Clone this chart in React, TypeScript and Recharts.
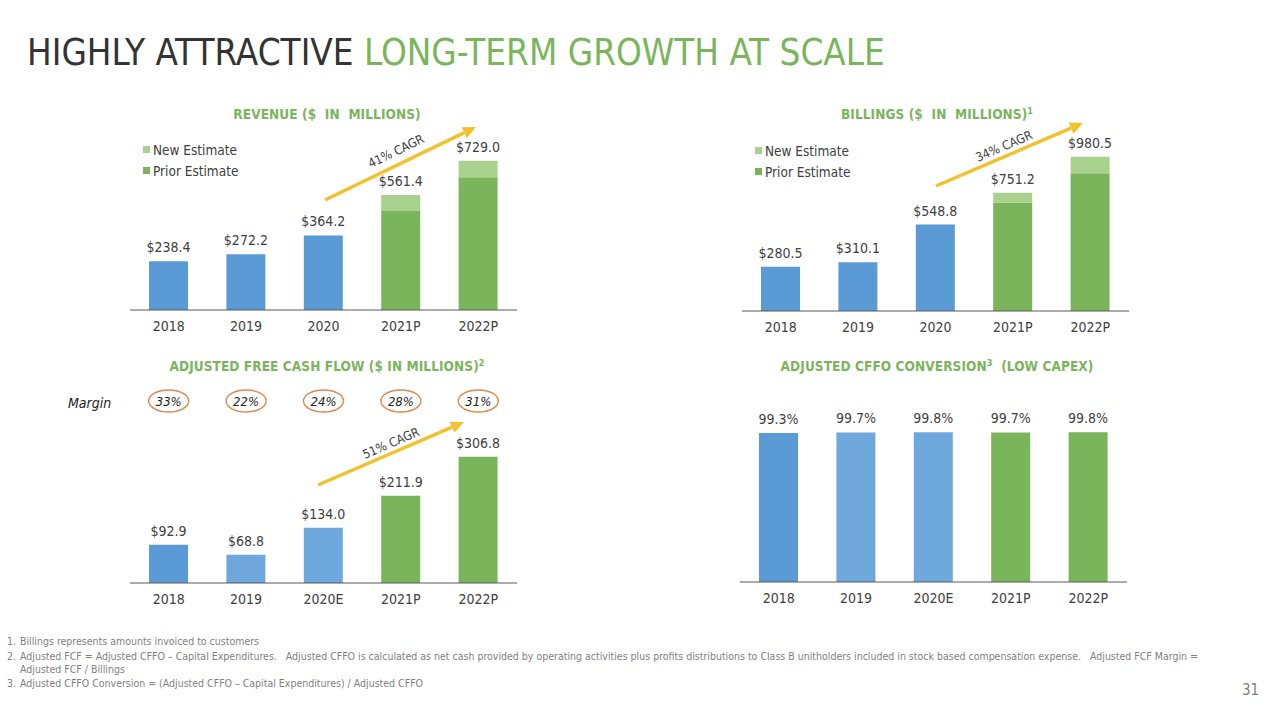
import React from 'react';
import { BarChart, Bar, XAxis, YAxis, Cell, LabelList, Legend } from 'recharts';

// categories
const years = ['2018', '2019', '2020', '2021P', '2022P'];
const fcfYears = ['2018', '2019', '2020E', '2021P', '2022P'];
const projected = [false, false, false, true, true];

// revenue ($M) — total and the prior-estimate part of the projections
const revenueTotal = [238.4, 272.2, 364.2, 561.4, 729.0];
const revenuePrior = [null, null, null, 483, 648];

// billings ($M)
const billingsTotal = [280.5, 310.1, 548.8, 751.2, 980.5];
const billingsPrior = [null, null, null, 690, 875];

// adjusted FCF ($M) and margin
const fcfValues = [92.9, 68.8, 134.0, 211.9, 306.8];
const fcfMargins = ['33%', '22%', '24%', '28%', '31%'];

// adjusted CFFO conversion (%)
const cffoValues = [99.3, 99.7, 99.8, 99.7, 99.8];

const BLUE = '#5b9bd5';
const LIGHT_BLUE = '#6fa8dc';
const GREEN = '#7ab55c';
const LIGHT_GREEN = '#a9d18e';
const ARROW = '#f2c12e';
const TEXT = '#404040';
const FONT = "'DejaVu Sans Condensed', 'DejaVu Sans', sans-serif";
const NARROW = "'Liberation Sans Narrow', 'DejaVu Sans Condensed', sans-serif";

const barColors = [BLUE, LIGHT_BLUE, LIGHT_BLUE, GREEN, GREEN];

const money = (v: number) => `$${v.toFixed(1)}`;

function stackedRows(total: number[], prior: (number | null)[]) {
  return years.map((year, i) => ({
    year,
    actual: projected[i] ? null : total[i],
    prior: prior[i],
    newer: projected[i] && prior[i] != null ? +(total[i] - (prior[i] as number)).toFixed(1) : null,
    actualLabel: projected[i] ? null : money(total[i]),
    projLabel: projected[i] ? money(total[i]) : null,
  }));
}

const revenueData = stackedRows(revenueTotal, revenuePrior);
const billingsData = stackedRows(billingsTotal, billingsPrior);
const fcfData = fcfYears.map((year, i) => ({ year, value: fcfValues[i], margin: fcfMargins[i], label: money(fcfValues[i]) }));
const cffoData = fcfYears.map((year, i) => ({ year, value: cffoValues[i], label: `${cffoValues[i].toFixed(1)}%` }));

const tickStyle = { fontSize: 14, fill: TEXT, fontFamily: FONT };
const labelStyle = { fontSize: 14, fill: TEXT, fontFamily: FONT };

const LegendBox = ({ payload }: any) => {
  const items = [...(payload || [])].filter((p: any) => p.type !== 'none').sort((a: any, b: any) => String(a.value).localeCompare(String(b.value)));
  return (
    <div style={{ fontFamily: FONT, fontSize: 13.5, color: TEXT }}>
      {items.map((p: any) => (
        <div key={p.value} style={{ display: 'flex', alignItems: 'center', height: 21 }}>
          <span style={{ width: 7, height: 7, background: p.color, display: 'inline-block', marginRight: 3 }} />
          {p.value}
        </div>
      ))}
    </div>
  );
};

function StackedPanel({ data, max, left, top }: { data: any[]; max: number; left: number; top: number }) {
  return (
    <div style={{ position: 'absolute', left, top }}>
      <BarChart width={400} height={210} data={data} margin={{ top: 10, right: 3, left: 10, bottom: 0 }}>
        <XAxis dataKey="year" height={30} tick={tickStyle} tickLine={false} tickMargin={5} axisLine={{ stroke: '#595959' }} />
        <YAxis hide domain={[0, max]} />
        <Legend layout="vertical" align="center" verticalAlign="middle" content={<LegendBox />}
          wrapperStyle={{ left: 23, top: 9, width: 'auto', height: 'auto' }} />
        <Bar dataKey="actual" stackId="a" fill={BLUE} barSize={39} legendType="none" isAnimationActive={false}>
          <LabelList dataKey="actualLabel" position="top" offset={9} style={labelStyle} />
        </Bar>
        <Bar dataKey="prior" name="Prior Estimate" stackId="a" fill={GREEN} barSize={39} isAnimationActive={false} />
        <Bar dataKey="newer" name="New Estimate" stackId="a" fill={LIGHT_GREEN} barSize={39} isAnimationActive={false}>
          <LabelList dataKey="projLabel" position="top" offset={9} style={labelStyle} />
        </Bar>
      </BarChart>
    </div>
  );
}

const MarginTick = ({ x, y, payload }: any) => (
  <g>
    <ellipse cx={x} cy={y - 42} rx={20} ry={11} fill="none" stroke="#d98a4e" strokeWidth={1.4} />
    <text x={x} y={y - 42} dy="0.35em" textAnchor="middle" fontSize={13} fontStyle="italic" fill="#222" fontFamily={FONT}>
      {payload.value}
    </text>
  </g>
);

function FcfPanel() {
  return (
    <div style={{ position: 'absolute', left: 120, top: 380 }}>
      <BarChart width={400} height={233} data={fcfData} margin={{ top: 0, right: 3, left: 10, bottom: 0 }}>
        <XAxis xAxisId="top" orientation="top" dataKey="margin" height={63} axisLine={false} tickLine={false}
          tickSize={0} tickMargin={0} tick={<MarginTick />} interval={0} />
        <XAxis dataKey="year" height={30} tick={tickStyle} tickLine={false} tickMargin={5} axisLine={{ stroke: '#595959' }} />
        <YAxis hide domain={[0, 340]} />
        <Bar dataKey="value" barSize={39} isAnimationActive={false}>
          {fcfData.map((d, i) => <Cell key={d.year} fill={barColors[i]} />)}
          <LabelList dataKey="label" position="top" offset={9} style={labelStyle} />
        </Bar>
      </BarChart>
    </div>
  );
}

function CffoPanel() {
  return (
    <div style={{ position: 'absolute', left: 730, top: 392 }}>
      <BarChart width={400} height={220} data={cffoData} margin={{ top: 30, right: 3, left: 10, bottom: 0 }}>
        <XAxis dataKey="year" height={30} tick={tickStyle} tickLine={false} tickMargin={5} axisLine={{ stroke: '#595959' }} />
        <YAxis hide domain={[0, 106.7]} />
        <Bar dataKey="value" barSize={39} isAnimationActive={false}>
          {cffoData.map((d, i) => <Cell key={d.year} fill={barColors[i]} />)}
          <LabelList dataKey="label" position="top" offset={9} style={labelStyle} />
        </Bar>
      </BarChart>
    </div>
  );
}

// CAGR arrow annotation
function Arrow({ x1, y1, x2, y2, text, tx, ty }: any) {
  const ang = Math.atan2(y2 - y1, x2 - x1);
  const len = 13, half = 6;
  const bx = x2 - len * Math.cos(ang), by = y2 - len * Math.sin(ang);
  const px = -Math.sin(ang) * half, py = Math.cos(ang) * half;
  const deg = (ang * 180) / Math.PI;
  return (
    <g>
      <line x1={x1} y1={y1} x2={bx} y2={by} stroke={ARROW} strokeWidth={3.5} />
      <polygon points={`${x2},${y2} ${bx + px},${by + py} ${bx - px},${by - py}`} fill={ARROW} />
      <text x={tx} y={ty} dy="0.35em" textAnchor="middle" fontSize={12.5} fill={TEXT} fontFamily={FONT}
        transform={`rotate(${deg} ${tx} ${ty})`}>{text}</text>
    </g>
  );
}

const subTitle: React.CSSProperties = {
  position: 'absolute', width: 400, textAlign: 'center', fontFamily: FONT, fontWeight: 'bold',
  fontSize: 13.5, color: GREEN, letterSpacing: 0.1, whiteSpace: 'pre',
};
const sup: React.CSSProperties = { fontSize: 9, verticalAlign: 'super', lineHeight: 0 };

export default function App() {
  return (
    <div style={{ position: 'fixed', left: 0, top: 0, width: 1280, height: 720, background: '#fff', overflow: 'hidden' }}>
      <div style={{ position: 'absolute', left: 27, top: 30, fontFamily: NARROW, fontSize: 36.5, lineHeight: '46px', whiteSpace: 'nowrap' }}>
        <span style={{ color: '#333' }}>HIGHLY ATTRACTIVE </span>
        <span style={{ color: GREEN }}>LONG-TERM GROWTH AT SCALE</span>
      </div>

      <div style={{ ...subTitle, left: 127, top: 106 }}>REVENUE ($  IN  MILLIONS)</div>
      <div style={{ ...subTitle, left: 737, top: 106 }}>BILLINGS ($  IN  MILLIONS)<span style={sup}>1</span></div>
      <div style={{ ...subTitle, left: 127, top: 358 }}>ADJUSTED FREE CASH FLOW ($ IN MILLIONS)<span style={sup}>2</span></div>
      <div style={{ ...subTitle, left: 737, top: 358 }}>ADJUSTED CFFO CONVERSION<span style={sup}>3</span>  (LOW CAPEX)</div>

      <StackedPanel data={revenueData} max={830} left={120} top={130} />
      <StackedPanel data={billingsData} max={1080} left={732} top={131} />
      <FcfPanel />
      <CffoPanel />

      <div style={{ position: 'absolute', left: 68, top: 395, fontFamily: FONT, fontStyle: 'italic', fontSize: 14, color: '#222' }}>Margin</div>

      <svg width={1280} height={720} style={{ position: 'absolute', left: 0, top: 0, pointerEvents: 'none' }}>
        <Arrow x1={325} y1={200} x2={476} y2={127} text="41% CAGR" tx={396} ty={151} />
        <Arrow x1={936} y1={186} x2={1083} y2={123} text="34% CAGR" tx={1004} ty={146} />
        <Arrow x1={318} y1={485} x2={464} y2={422} text="51% CAGR" tx={391} ty={443} />
      </svg>

      <div style={{ position: 'absolute', left: 7, top: 635, fontFamily: NARROW, fontSize: 10.5, color: '#7f7f7f', lineHeight: '13px' }}>
        <div style={{ display: 'flex', height: 14 }}><span style={{ width: 13 }}>1.</span>Billings represents amounts invoiced to customers</div>
        <div style={{ display: 'flex', marginTop: 1 }}><span style={{ width: 13, flex: 'none' }}>2.</span>
          <span style={{ whiteSpace: 'pre' }}>{'Adjusted FCF = Adjusted CFFO – Capital Expenditures.   Adjusted CFFO is calculated as net cash provided by operating activities plus profits distributions to Class B unitholders included in stock based compensation expense.   Adjusted FCF Margin =\nAdjusted FCF / Billings'}</span>
        </div>
        <div style={{ display: 'flex', marginTop: 1 }}><span style={{ width: 13 }}>3.</span>Adjusted CFFO Conversion = (Adjusted CFFO – Capital Expenditures) / Adjusted CFFO</div>
      </div>
      <div style={{ position: 'absolute', left: 1242, top: 681, fontFamily: NARROW, fontSize: 15, color: '#7f7f7f' }}>31</div>
    </div>
  );
}
